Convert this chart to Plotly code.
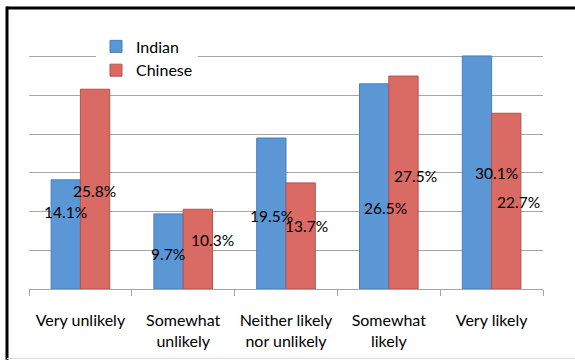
import plotly.graph_objects as go

categories = ["Very unlikely", "Somewhat<br>unlikely", "Neither likely<br>nor unlikely", "Somewhat<br>likely", "Very likely"]
indian = [14.1, 9.7, 19.5, 26.5, 30.1]
chinese = [25.8, 10.3, 13.7, 27.5, 22.7]

# label placement (style): y position in axis units and horizontal pixel shift
indian_label_y = [9.9, 4.5, 9.4, 10.4, 15.0]
indian_label_dx = [-15, -15, -15, -3, 5]
chinese_label_y = [12.6, 6.3, 8.1, 14.6, 11.3]
chinese_label_dx = [14, 29, 20, 27, 27]

W, H = 575, 360
L, R, T, B = 29, 32, 17.5, 71
pw, ph = W - L - R, H - T - B

FONT = "Lato"

fig = go.Figure()
fig.add_trace(go.Bar(x=categories, y=indian, name="Indian",
                     marker=dict(color="#5B96D5", line=dict(color="#4A7EBB", width=1))))
fig.add_trace(go.Bar(x=categories, y=chinese, name="Chinese",
                     marker=dict(color="#D96A64", line=dict(color="#B9504B", width=1))))

ann = []
for i, c in enumerate(categories):
    ann.append(dict(x=c, y=indian_label_y[i], text=f"{indian[i]}%", showarrow=False,
                    xshift=indian_label_dx[i], font=dict(size=15.5, color="black", family=FONT)))
    ann.append(dict(x=c, y=chinese_label_y[i], text=f"{chinese[i]}%", showarrow=False,
                    xshift=chinese_label_dx[i], font=dict(size=15.5, color="black", family=FONT)))

def px2x(p):
    return (p - L) / pw

def py2y(p):
    return (H - B - p) / ph

shapes = [
    dict(type="line", xref="paper", yref="paper", x0=px2x(7), x1=px2x(W), y0=py2y(7.5), y1=py2y(7.5),
         line=dict(color="black", width=3)),
    dict(type="line", xref="paper", yref="paper", x0=px2x(7), x1=px2x(7), y0=py2y(6), y1=py2y(H),
         line=dict(color="black", width=3)),
    dict(type="line", xref="paper", yref="paper", x0=px2x(7), x1=px2x(W), y0=py2y(358.5), y1=py2y(358.5),
         line=dict(color="#D9D9D9", width=1)),
]

fig.update_layout(
    width=W, height=H,
    margin=dict(l=L, r=R, t=T, b=B, autoexpand=False),
    paper_bgcolor="white", plot_bgcolor="white",
    barmode="group", bargap=0.43, bargroupgap=0,
    font=dict(family=FONT, size=15, color="black"),
    showlegend=True,
    legend=dict(x=px2x(96), y=py2y(29), xanchor="left", yanchor="top",
                bgcolor="white", font=dict(size=16, family=FONT), tracegroupgap=0,
                itemwidth=30),
    annotations=ann,
    shapes=shapes,
    xaxis=dict(showline=True, linecolor="#A6A6A6", linewidth=1, ticks="outside",
               tickson="boundaries", ticklen=6, tickcolor="#A6A6A6", ticklabelstandoff=17,
               tickfont=dict(size=16, family=FONT, color="black"), showgrid=False),
    yaxis=dict(range=[0, 35], dtick=5, showticklabels=False, showgrid=True,
               gridcolor="#A6A6A6", gridwidth=1, zeroline=False, showline=False, ticks=""),
)

fig.write_html("out.html", config={"displayModeBar": False},
               post_script="document.body.style.margin='0';document.body.style.overflow='hidden';")
